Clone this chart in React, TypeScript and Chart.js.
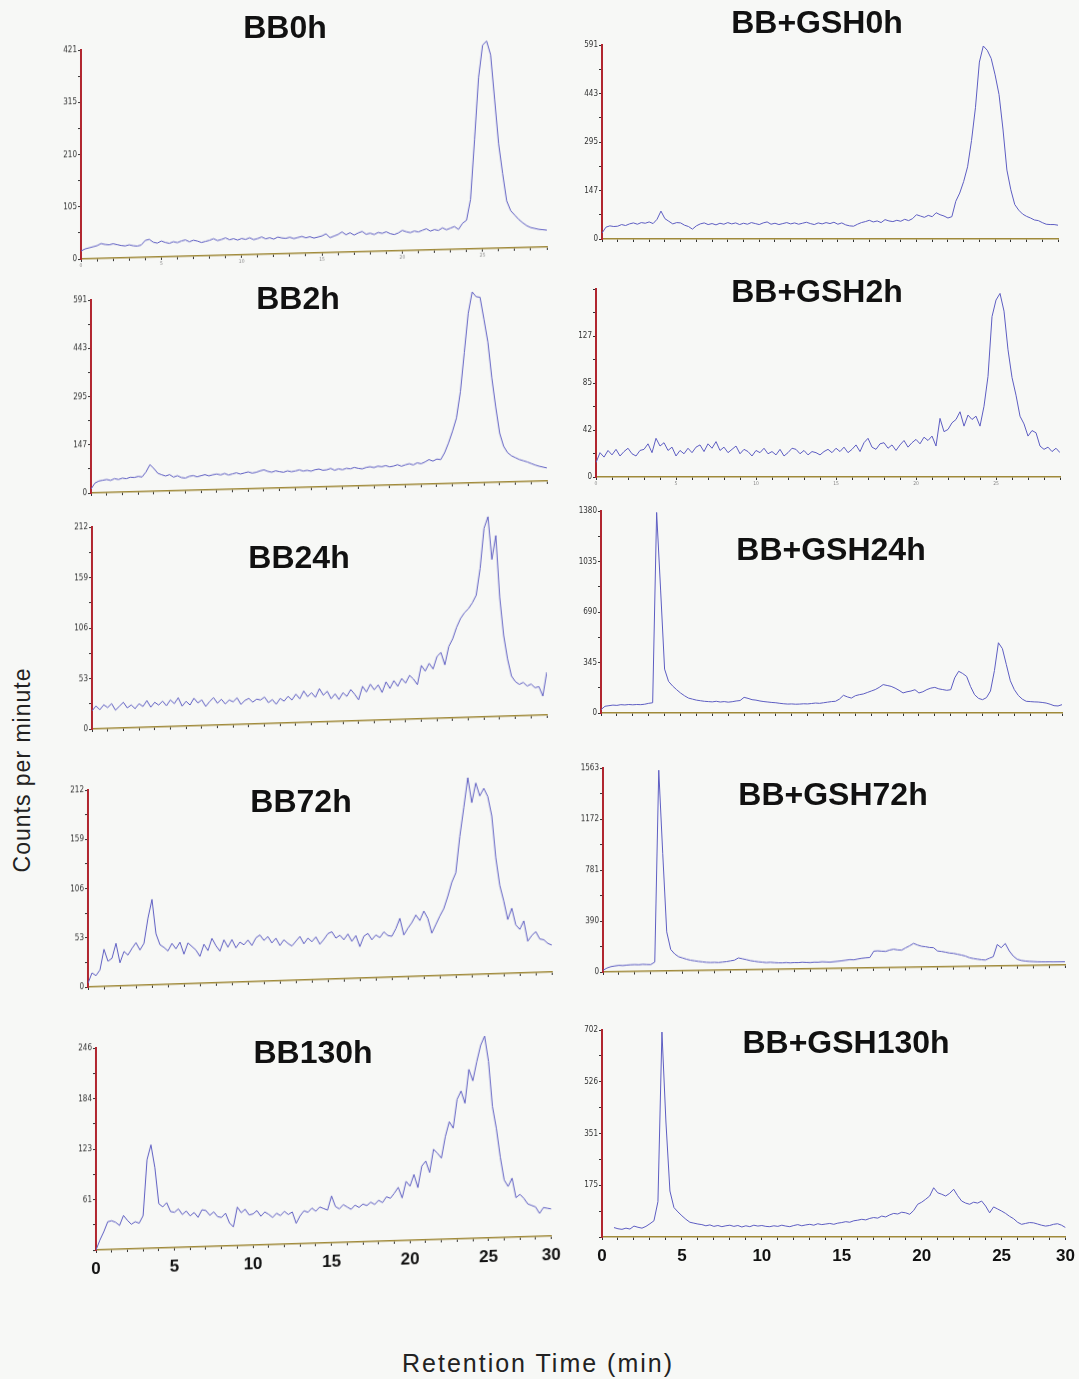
import React, { useEffect, useRef } from 'react';
import { Chart, registerables } from 'chart.js';

Chart.register(...registerables);

// Retention-time sampling grid (min), 0 .. 29 every 0.25 min
const TIME_STEP = 0.25;
const times: number[] = Array.from({ length: 117 }, (_, i) => i * TIME_STEP);

// Counts per minute (one value per grid time)
const bb0h = [16,20,22,24, 26,30,28,27, 29,27,25,24, 26,24,23,25, 34,36,30,28, 32,29,27,30, 28,31,33,29, 32,30,27,29, 31,34,30,32, 35,31,33,30, 33,31,34,30, 32,35,31,33, 30,34,32,31, 33,30,32,34, 31,33,30,32, 34,38,30,33, 36,41,35,39, 34,38,41,35, 37,34,38,36, 39,35,33,36, 41,38,36,39, 37,40,43,38, 41,39,44,40, 43,46,40,52, 58,100,220,345, 410,418,390,300, 210,150,95,75, 66,57,50,44, 40,38,36,35, 34];
const bb2h = [12,30,36,38, 40,37,42,39, 43,41,45,44, 47,45,60,82, 70,55,50,46, 50,42,46,40, 38,43,45,41, 44,47,43,46, 48,45,49,44, 47,50,46,49, 52,48,50,54, 57,52,49,53, 50,48,52,49, 51,54,50,52, 49,53,55,51, 52,56,50,54, 51,55,53,57, 54,52,56,58, 55,59,57,60, 56,58,62,57, 61,64,60,66, 63,68,75,70, 76,74,95,125, 160,200,280,400, 520,585,570,568, 500,430,320,230, 150,110,90,80, 74,68,64,60, 55,50,46,43, 40];
const bb24h = [19,24,20,25, 22,26,19,23, 27,21,24,20, 25,22,28,21, 26,23,27,22, 28,24,30,21, 26,22,29,24, 27,20,25,29, 23,27,22,26, 24,28,21,25, 27,23,26,25, 28,22,25,20, 26,23,28,24, 30,25,33,27, 31,26,35,28, 32,24,29,23, 30,26,33,28, 22,36,30,38, 32,37,29,40, 33,41,35,43, 38,46,42,36, 56,50,58,52, 65,69,56,75, 83,95,104,110, 114,120,128,156, 198,210,165,190, 125,85,60,42, 36,33,35,31, 33,29,30,20, 45];
const bb72h = [4,15,12,18, 40,27,30,46, 25,37,33,40, 46,38,45,72, 92,55,43,40, 36,44,38,45, 32,44,40,36, 29,42,35,48, 40,34,46,38, 46,37,43,40, 45,39,47,50, 44,48,41,46, 38,44,40,37, 42,47,39,45, 41,46,38,43, 49,51,44,47, 42,48,40,46, 34,45,48,41, 46,43,49,45, 44,52,63,45, 52,58,66,60, 70,62,46,55, 64,72,85,100, 110,149,180,212, 185,206,192,200, 191,170,125,95, 78,58,70,52, 47,56,34,40, 44,36,35,31, 29];
const bb130h = [0,12,22,34, 35,33,29,41, 35,30,33,31, 40,108,126,98, 54,50,55,44, 43,47,40,44, 38,42,36,45, 44,38,42,36, 35,40,28,23, 47,40,44,37, 38,42,35,40, 37,33,38,35, 40,36,39,25, 34,40,38,43, 39,44,42,40, 57,44,41,46, 43,40,45,42, 46,44,48,45, 50,47,54,52, 58,65,52,72, 66,80,64,90, 96,82,110,105, 99,125,143,135, 170,180,165,206, 192,215,235,246, 215,160,133,98, 70,62,72,48, 52,47,40,38, 36,28,35,34, 33];
const gsh0h = [18,36,40,38, 39,44,41,46, 49,45,50,48, 52,47,60,85, 62,54,46,50, 49,42,38,30, 40,46,49,44, 47,43,48,45, 50,46,49,44, 48,45,50,47, 44,49,52,45, 48,44,47,50, 46,49,45,48, 51,47,44,49, 46,50,47,51, 45,49,43,40, 39,45,50,53, 57,52,55,50, 59,55,53,57, 54,60,56,62, 74,70,66,72, 68,80,74,70, 64,68,115,140, 175,220,300,400, 539,588,575,550, 500,440,335,210, 150,105,88,76, 69,64,58,56, 50,45,44,44, 42];
const gsh2h = [13,22,18,24, 20,25,19,23, 26,21,19,24, 25,30,22,35, 28,31,24,27, 19,24,21,26, 22,27,29,23, 30,26,32,24, 27,22,25,28, 21,25,23,19, 24,22,26,21, 23,20,25,19, 22,26,25,21, 24,20,23,22, 20,23,25,22, 26,23,27,22, 25,29,23,31, 35,27,25,30, 31,26,29,24, 29,33,27,31, 34,30,36,33, 37,28,53,41, 43,49,52,59, 46,56,52,55, 46,64,91,145, 160,166,150,115, 90,74,55,48, 37,42,40,28, 25,27,23,26, 22];
const gsh24h = [23,46,50,54, 52,57,55,58, 56,58,57,60, 66,70,1370,840, 300,216,185,160, 137,118,102,95, 88,84,80,78, 76,80,75,78, 74,77,82,85, 107,100,91,88, 82,78,75,72, 70,66,63,61, 62,60,61,63, 62,65,68,66, 70,74,78,80, 95,121,110,102, 118,125,130,140, 150,160,175,194, 188,182,170,155, 137,145,150,159, 137,145,160,170, 175,165,160,155, 159,240,285,270, 250,180,125,100, 91,105,150,290, 480,440,330,220, 160,120,95,80, 78,76,75,72, 68,60,50,48, 57];
const gsh72h = [13,30,40,45, 49,47,50,52, 53,51,54,52, 51,70,1540,900, 300,165,130,108, 98,88,80,75, 70,66,62,60, 61,59,62,65, 70,75,92,85, 78,70,65,60, 57,53,55,52, 50,49,51,48, 50,49,52,50, 48,51,50,53, 51,49,52,55, 58,62,66,64, 70,75,78,80, 128,130,127,125, 135,141,135,133, 150,165,183,170, 160,156,150,148, 122,118,112,105, 102,95,88,80, 67,60,55,50, 47,60,72,165, 140,172,115,75, 50,40,35,32, 30,28,27,26, 26,25,25,25, 25];
const gsh130h = [null,null,null,32, 28,26,30,27, 37,33,30,36, 45,55,120,695, 390,156,100,85, 72,60,50,47, 44,42,38,41, 36,39,35,38, 40,36,39,34, 38,35,40,37, 39,36,35,38, 36,40,37,35, 39,42,38,41, 43,40,45,42, 44,46,43,47, 49,52,50,55, 57,60,58,63, 66,64,71,68, 75,80,78,84, 82,77,90,111, 118,128,139,167, 150,145,139,148, 162,140,122,115, 111,118,115,122, 105,82,102,95, 88,80,70,62, 50,43,46,49, 48,44,40,37, 39,43,45,40, 32];

// Y-axis maxima and tick labels as printed on each panel
const yMaxes = [421, 591, 212, 212, 246, 591, 170, 1380, 1563, 702];
const yTickLabels: string[][] = [
  ['0', '105', '210', '315', '421'],
  ['0', '147', '295', '443', '591'],
  ['0', '53', '106', '159', '212'],
  ['0', '53', '106', '159', '212'],
  ['', '61', '123', '184', '246'],
  ['0', '147', '295', '443', '591'],
  ['0', '42', '85', '127', ''],
  ['0', '345', '690', '1035', '1380'],
  ['0', '390', '781', '1172', '1563'],
  ['', '175', '351', '526', '702'],
];
const titles = ['BB0h', 'BB2h', 'BB24h', 'BB72h', 'BB130h', 'BB+GSH0h', 'BB+GSH2h', 'BB+GSH24h', 'BB+GSH72h', 'BB+GSH130h'];
const seriesList = [bb0h, bb2h, bb24h, bb72h, bb130h, gsh0h, gsh2h, gsh24h, gsh72h, gsh130h];
const X_MAX = 29;
const xTickValues: number[] = Array.from({ length: 30 }, (_, i) => i);

// Layout (page pixels) of each panel — kept apart from the data
type Layout = {
  axisX: number; right: number; top: number; zero: number; slope: number;
  xLabels: 'none' | 'tiny' | 'big'; titleX: number; titleY: number;
};
const layouts: Layout[] = [
  { axisX: 81, right: 547, top: 50, zero: 259, slope: 12 / 466, xLabels: 'tiny', titleX: 285, titleY: 27 },
  { axisX: 91, right: 547, top: 300, zero: 493, slope: 12 / 456, xLabels: 'none', titleX: 298, titleY: 298 },
  { axisX: 92, right: 547, top: 527, zero: 729, slope: 14 / 455, xLabels: 'none', titleX: 299, titleY: 557 },
  { axisX: 88, right: 552, top: 790, zero: 987, slope: 15 / 464, xLabels: 'none', titleX: 301, titleY: 801 },
  { axisX: 96, right: 553, top: 1048, zero: 1250, slope: 14 / 457, xLabels: 'big', titleX: 313, titleY: 1052 },
  { axisX: 602, right: 1058, top: 45, zero: 239, slope: 0, xLabels: 'none', titleX: 817, titleY: 22 },
  { axisX: 596, right: 1060, top: 289, zero: 477, slope: 0, xLabels: 'tiny', titleX: 817, titleY: 291 },
  { axisX: 601, right: 1062, top: 511, zero: 713, slope: 0, xLabels: 'none', titleX: 831, titleY: 549 },
  { axisX: 603, right: 1065, top: 768, zero: 972, slope: 7 / 462, xLabels: 'none', titleX: 833, titleY: 794 },
  { axisX: 602, right: 1067, top: 1030, zero: 1237, slope: 0, xLabels: 'big', titleX: 846, titleY: 1042 },
];

const Y_AXIS_W = 40;
const PAD_TOP = 12;
const PAD_RIGHT = 14;
const LINE_COLOR = '#5d5dc2';
const SMALL_FONT = '"Liberation Sans Narrow", "DejaVu Sans Condensed", "Liberation Sans", sans-serif';

function Panel({ idx }: { idx: number }) {
  const ref = useRef<HTMLCanvasElement | null>(null);
  const L = layouts[idx];
  const xH = L.xLabels === 'big' ? 40 : L.xLabels === 'tiny' ? 12 : 6;
  const width = L.right - L.axisX + Y_AXIS_W + PAD_RIGHT;
  const height = L.zero - L.top + PAD_TOP + xH;
  const deg = (Math.atan(L.slope) * 180) / Math.PI;

  useEffect(() => {
    if (!ref.current) return;
    const ymax = yMaxes[idx];
    const half = ymax / 8;
    const yVals = Array.from({ length: 9 }, (_, k) => k * half);
    const labels = yTickLabels[idx];
    const values = seriesList[idx];
    const data = times.map((t, i) => ({ x: t, y: values[i] }));

    const xFont =
      L.xLabels === 'big'
        ? { family: '"Liberation Sans", Arial, sans-serif', size: 17, weight: 'bold' as const }
        : { family: SMALL_FONT, size: 5 };

    const chart = new Chart(ref.current, {
      type: 'line',
      data: {
        datasets: [
          {
            data: data as any,
            borderColor: LINE_COLOR,
            borderWidth: 1,
            pointRadius: 0,
            fill: false,
            tension: 0,
            spanGaps: false,
          },
        ],
      },
      options: {
        responsive: false,
        maintainAspectRatio: false,
        animation: false,
        events: [],
        layout: { padding: { top: PAD_TOP, right: PAD_RIGHT, left: 0, bottom: 0 } },
        plugins: { legend: { display: false }, tooltip: { enabled: false }, title: { display: false } },
        scales: {
          x: {
            type: 'linear',
            min: 0,
            max: X_MAX,
            afterBuildTicks: (s: any) => {
              s.ticks = xTickValues.map((v) => ({ value: v }));
            },
            afterFit: (s: any) => {
              s.height = xH;
            },
            grid: { drawOnChartArea: false, drawTicks: true, tickLength: 3, tickColor: '#333', tickWidth: 1 },
            border: { display: true, color: '#a08a3a', width: 1.5 },
            ticks: {
              autoSkip: false,
              maxRotation: 0,
              minRotation: 0,
              padding: L.xLabels === 'big' ? 6 : 1,
              color: L.xLabels === 'big' ? '#111' : '#888',
              font: xFont,
              callback: (v: any) => {
                const n = Number(v);
                if (L.xLabels === 'none') return '';
                if (n % 5 === 0 && n <= 25) return String(n);
                if (L.xLabels === 'big' && n === 29) return '30';
                return '';
              },
            },
          },
          y: {
            type: 'linear',
            min: 0,
            max: ymax,
            afterBuildTicks: (s: any) => {
              s.ticks = yVals.map((v) => ({ value: v }));
            },
            afterFit: (s: any) => {
              s.width = Y_AXIS_W;
            },
            grid: { drawOnChartArea: false, drawTicks: true, tickLength: 3, tickColor: '#333', tickWidth: 1 },
            border: { display: true, color: '#b1262f', width: 2 },
            ticks: {
              autoSkip: false,
              padding: 1,
              color: '#333',
              font: { family: SMALL_FONT, size: 8 },
              callback: (v: any) => {
                const k = Math.round(Number(v) / half);
                return k % 2 === 0 ? labels[k / 2] : '';
              },
            },
          },
        },
      },
    });
    return () => chart.destroy();
  }, [idx]);

  return (
    <canvas
      ref={ref}
      width={width}
      height={height}
      style={{
        position: 'absolute',
        left: L.axisX - Y_AXIS_W,
        top: L.top - PAD_TOP,
        width,
        height,
        display: 'block',
        transform: `skewY(${-deg}deg)`,
        transformOrigin: `${Y_AXIS_W}px ${PAD_TOP + L.zero - L.top}px`,
      }}
    />
  );
}

export default function App() {
  return (
    <div
      style={{
        position: 'absolute',
        left: 0,
        top: 0,
        width: 1079,
        height: 1379,
        background: '#f7f8f6',
        overflow: 'hidden',
        fontFamily: '"Liberation Sans", Arial, sans-serif',
      }}
    >
      {layouts.map((_, i) => (
        <Panel key={i} idx={i} />
      ))}
      {layouts.map((L, i) => (
        <div
          key={'t' + i}
          style={{
            position: 'absolute',
            left: L.titleX,
            top: L.titleY,
            transform: 'translate(-50%, -50%)',
            fontSize: 32,
            fontWeight: 'bold',
            lineHeight: 1,
            color: '#111',
            whiteSpace: 'nowrap',
          }}
        >
          {titles[i]}
        </div>
      ))}
      <div
        style={{
          position: 'absolute',
          left: 22,
          top: 770,
          transform: 'translate(-50%, -50%) rotate(-90deg)',
          fontSize: 23,
          letterSpacing: 1,
          lineHeight: 1,
          color: '#222',
          whiteSpace: 'nowrap',
        }}
      >
        Counts per minute
      </div>
      <div
        style={{
          position: 'absolute',
          left: 538,
          top: 1363,
          transform: 'translate(-50%, -50%)',
          fontSize: 25,
          letterSpacing: 2,
          lineHeight: 1,
          color: '#222',
          whiteSpace: 'nowrap',
        }}
      >
        Retention Time (min)
      </div>
    </div>
  );
}
